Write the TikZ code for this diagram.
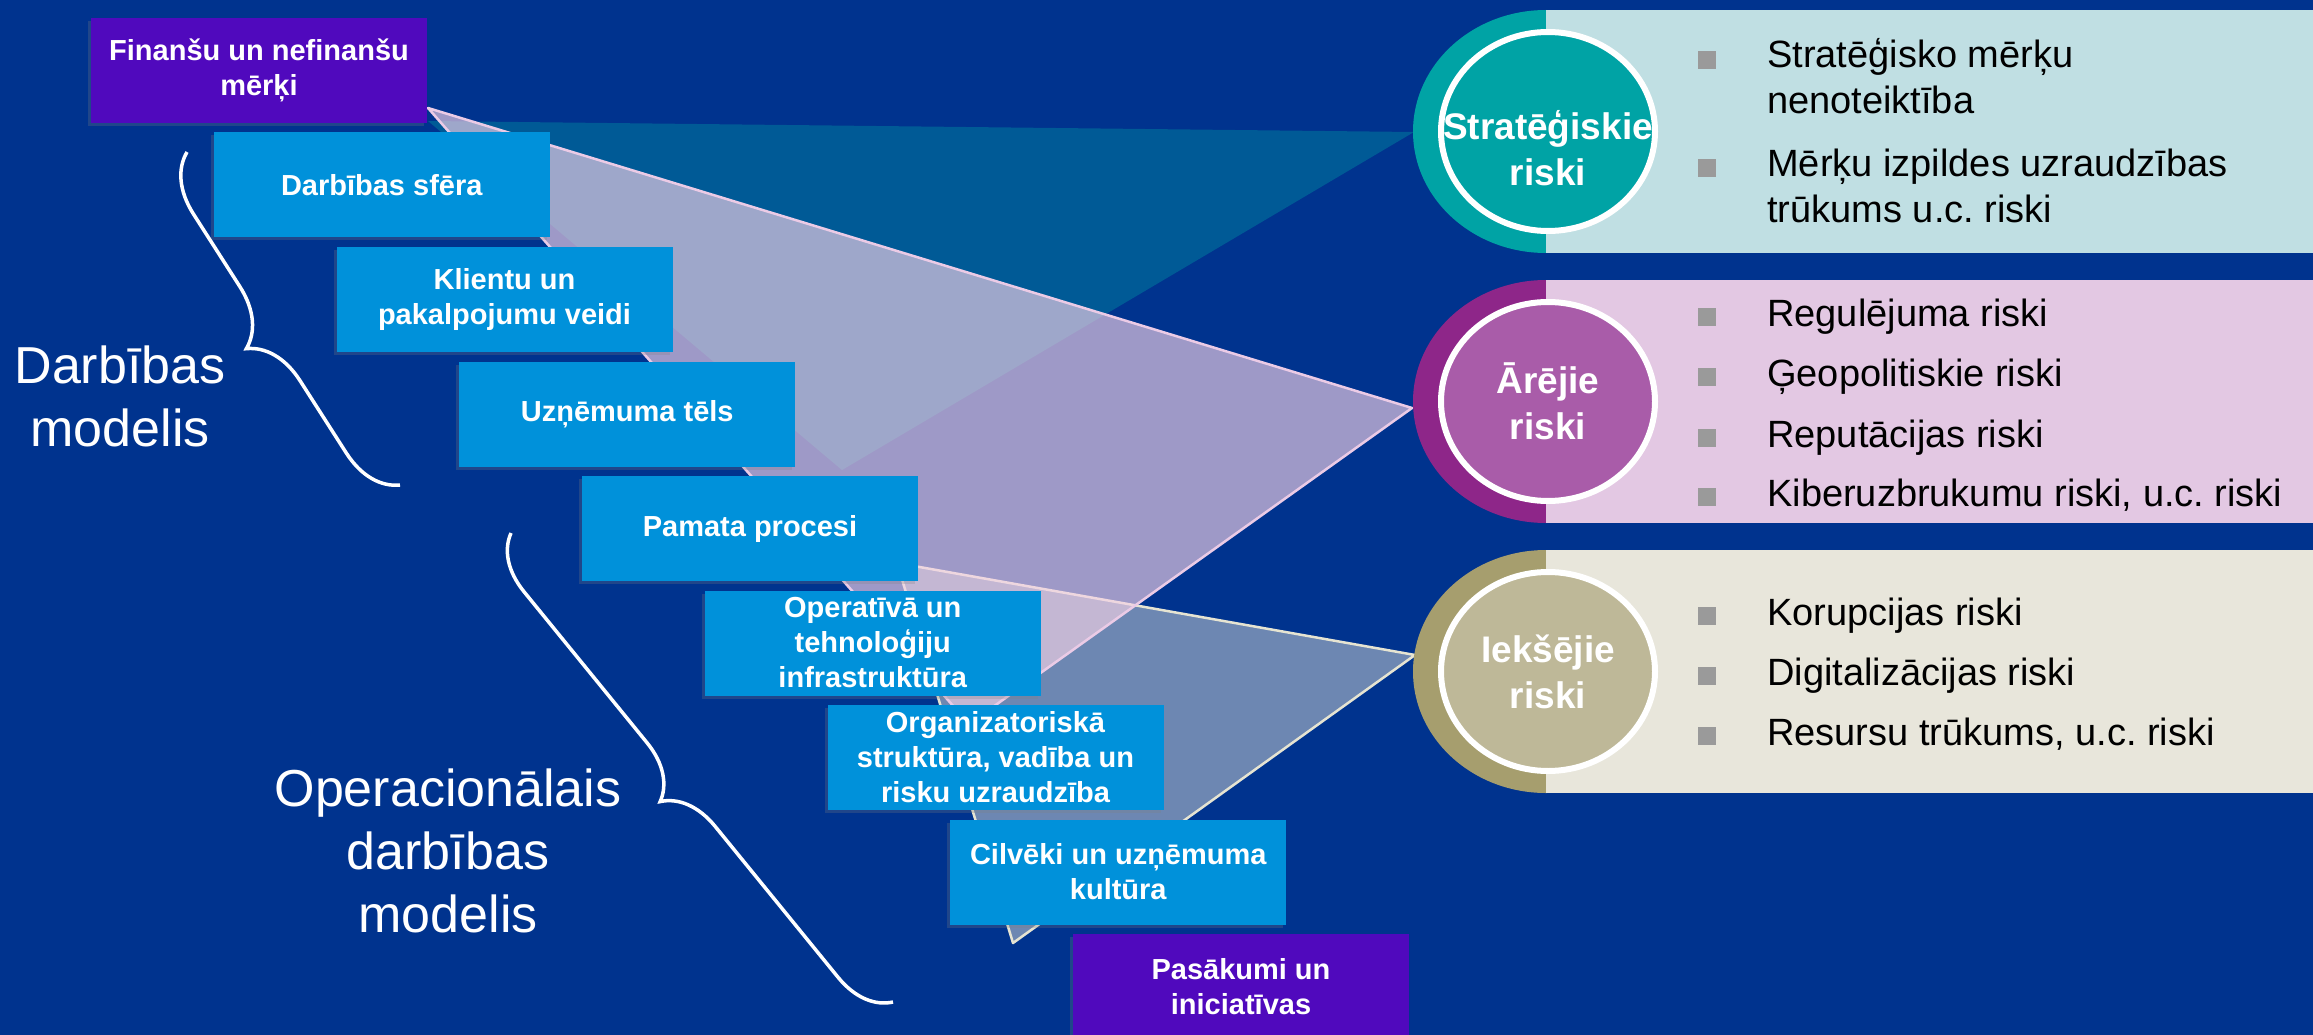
\documentclass[tikz,border=0pt]{standalone}
\usepackage{fontspec}
\setmainfont{Liberation Sans}
\usetikzlibrary{shapes.geometric, decorations.pathreplacing, shadows}
\definecolor{BGBLUE}{HTML}{00338E}
\definecolor{BOXBLUE}{HTML}{0091DA}
\definecolor{BOXPURPLE}{HTML}{5009BD}
\definecolor{TEAL}{HTML}{00A3A5}
\definecolor{TEALLIGHT}{HTML}{C0DFE3}
\definecolor{PLUM}{HTML}{8E2689}
\definecolor{PLUMMID}{HTML}{A95CA9}
\definecolor{PLUMLIGHT}{HTML}{E3C8E3}
\definecolor{OLIVE}{HTML}{A69E6E}
\definecolor{OLIVEMID}{HTML}{BEB898}
\definecolor{OLIVELIGHT}{HTML}{E8E6DB}
\definecolor{PINKTRI}{HTML}{F3D1E6}
\definecolor{PINKEDGE}{HTML}{EBCBE6}
\definecolor{CREAMEDGE}{HTML}{E6E4D2}
\definecolor{BULLETGREY}{HTML}{9A9A9A}
\frenchspacing

\begin{document}
\begin{tikzpicture}[x=1pt, y=-1pt,
    stepbox/.style={rectangle, fill=BOXBLUE, minimum width=336pt, minimum height=105pt,
                    inner sep=0pt, align=center, text=white,
                    font=\fontsize{29}{35}\selectfont\bfseries,
                    drop shadow={shadow xshift=-3pt, shadow yshift=-3pt, opacity=0.25}},
    goalbox/.style={stepbox, fill=BOXPURPLE},
    riskback/.style={ellipse, minimum width=266pt, minimum height=243pt, inner sep=0pt},
    riskband/.style={rectangle, anchor=west, minimum width=770pt, minimum height=243pt,
                     inner sep=0pt},
    riskcircle/.style={ellipse, draw=white, line width=6pt, minimum width=214pt,
                       minimum height=199pt, inner sep=0pt},
    risklabel/.style={align=center, text=white, font=\fontsize{37}{46}\selectfont\bfseries},
    riskitem/.style={anchor=base west, align=left, inner sep=0pt,
                     font=\fontsize{38}{46.5}\selectfont},
    bulletsq/.style={rectangle, fill=BULLETGREY, minimum size=18pt, inner sep=0pt},
    modeltext/.style={align=center, text=white, font=\fontsize{52}{63}\selectfont},
    modelbrace/.style={draw=white, line width=3.5pt, decorate,
                       decoration={brace, amplitude=#1}}
  ]
  \useasboundingbox (0,0) rectangle (2313,1035);
  \clip (0,0) rectangle (2313,1035);
  \fill[BGBLUE] (0,0) rectangle (2313,1035);

  % fans towards the risk groups
  \coordinate (fanAleft) at (428,121);
  \coordinate (fanAtip) at (1414,132);
  \coordinate (fanAlow) at (842,470);
  \coordinate (fanBleft) at (428,108);
  \coordinate (fanBtip) at (1412,408);
  \coordinate (fanBlow) at (969,724);
  \coordinate (fanCleft) at (897,563);
  \coordinate (fanCtip) at (1415,655);
  \coordinate (fanClow) at (1013,943);
  \fill[TEAL, fill opacity=0.35] (fanAleft) -- (fanAtip) -- (fanAlow) -- cycle;
  \filldraw[fill=OLIVELIGHT, fill opacity=0.47, draw=CREAMEDGE, line width=2.5pt,
            line join=round] (fanCleft) -- (fanCtip) -- (fanClow) -- cycle;
  \filldraw[fill=PINKTRI, fill opacity=0.65, draw=PINKEDGE, line width=2.5pt,
            line join=round] (fanBleft) -- (fanBtip) -- (fanBlow) -- cycle;

  % staircase
  \node[goalbox] (goals) at (259,70.5) {Finanšu un nefinanšu\\mērķi};
  \node[stepbox] (scope) at (381.75,185) {Darbības sfēra};
  \node[stepbox] (clients) at (504.5,299.5) {Klientu un\\pakalpojumu veidi};
  \node[stepbox] (image) at (627.25,414) {Uzņēmuma tēls};
  \node[stepbox] (processes) at (750,528.5) {Pamata procesi};
  \node[stepbox] (infra) at (872.75,643) {Operatīvā un\\tehnoloģiju\\infrastruktūra};
  \node[stepbox] (orgstruct) at (995.5,757.5) {Organizatoriskā\\struktūra, vadība un\\risku uzraudzība};
  \node[stepbox] (people) at (1118.25,872) {Cilvēki un uzņēmuma\\kultūra};
  \node[goalbox] (actions) at (1241,986.5) {Pasākumi un\\iniciatīvas};

  % risk groups
  \node[riskback, fill=TEAL] (stratback) at (1546,131.5) {};
  \node[riskband, fill=TEALLIGHT] (stratband) at (stratback.center) {};
  \node[riskcircle, fill=TEAL] (stratcircle) at (1548,131.5) {};
  \node[risklabel] (stratlabel) at (1548,148) {Stratēģiskie\\riski};

  \node[riskback, fill=PLUM] (extback) at (1546,401.5) {};
  \node[riskband, fill=PLUMLIGHT] (extband) at (extback.center) {};
  \node[riskcircle, fill=PLUMMID] (extcircle) at (1548,401.5) {};
  \node[risklabel] (extlabel) at (1548,401.5) {Ārējie\\riski};

  \node[riskback, fill=OLIVE] (intback) at (1546,671.5) {};
  \node[riskband, fill=OLIVELIGHT] (intband) at (intback.center) {};
  \node[riskcircle, fill=OLIVEMID] (intcircle) at (1548,671.5) {};
  \node[risklabel] (intlabel) at (1548,671.5) {Iekšējie\\riski};

  % strategic (base = last line)
  \node[bulletsq] (sb1) at (1707,60) {};
  \node[riskitem] (s1) at (1767,114) {Stratēģisko mērķu\\nenoteiktība};
  \node[bulletsq] (sb2) at (1707,168) {};
  \node[riskitem] (s2) at (1767,222.5) {Mērķu izpildes uzraudzības\\trūkums u.c. riski};
  % external
  \node[bulletsq] (eb1) at (1707,317) {};
  \node[riskitem] (e1) at (1767,326) {Regulējuma riski};
  \node[bulletsq] (eb2) at (1707,377) {};
  \node[riskitem] (e2) at (1767,386) {Ģeopolitiskie riski};
  \node[bulletsq] (eb3) at (1707,438) {};
  \node[riskitem] (e3) at (1767,447) {Reputācijas riski};
  \node[bulletsq] (eb4) at (1707,497) {};
  \node[riskitem] (e4) at (1767,506) {Kiberuzbrukumu riski, u.c. riski};
  % internal
  \node[bulletsq] (ib1) at (1707,616) {};
  \node[riskitem] (i1) at (1767,625) {Korupcijas riski};
  \node[bulletsq] (ib2) at (1707,676) {};
  \node[riskitem] (i2) at (1767,685) {Digitalizācijas riski};
  \node[bulletsq] (ib3) at (1707,736) {};
  \node[riskitem] (i3) at (1767,745) {Resursu trūkums, u.c. riski};

  % model braces
  \coordinate (bizbracetop) at (187,152);
  \coordinate (bizbracebot) at (400,485);
  \coordinate (opbracetop) at (511,533);
  \coordinate (opbracebot) at (893,1002);
  \draw[modelbrace=56pt] (bizbracebot) -- (bizbracetop);
  \draw[modelbrace=54pt] (opbracebot) -- (opbracetop);
  \node[modeltext] (bizmodel) at (120,396) {Darbības\\modelis};
  \node[modeltext] (opmodel) at (448,851) {Operacionālais\\darbības\\modelis};
\end{tikzpicture}
\end{document}
